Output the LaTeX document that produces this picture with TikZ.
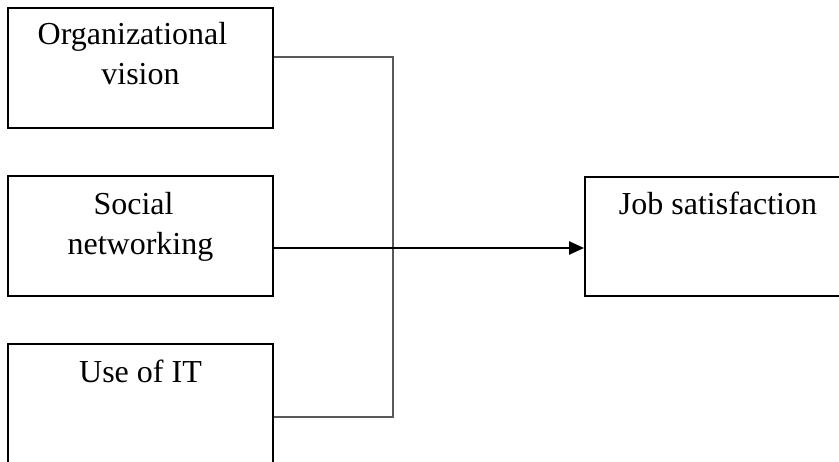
\documentclass[tikz,border=0pt]{standalone}
\usepackage{fontspec}
\setmainfont{Liberation Serif}
\usetikzlibrary{arrows.meta}

\begin{document}
\begin{tikzpicture}[x=1pt,y=-1pt]

      \useasboundingbox (0,0) rectangle (839,462);
      \clip (0,0) rectangle (839,462);

      \begin{scope}[every node/.style={rectangle,draw,line width=1.8pt,minimum width=265pt,minimum height=120pt,inner sep=0pt}]
        \node (ov) at (140.5,68)  {};
        \node (sn) at (140.5,236) {};
        \node (it) at (140.5,404) {};
        \node[minimum width=266pt,minimum height=119pt] (js) at (718,236.5) {};
      \end{scope}

      % base of a two-line text is its last line
      \begin{scope}[every node/.style={anchor=base,align=center,inner sep=0pt,font=\fontsize{32}{40}\selectfont}]
        \node (ovtext) at ([yshift=-77pt]ov.north) {Organizational\hspace*{16pt}\\vision};
        \node (sntext) at ([yshift=-79pt]sn.north) {Social\hspace*{14pt}\\networking};
        \node (ittext) at ([yshift=-39pt]it.north) {Use of IT};
        \node (jstext) at ([yshift=-38pt]js.north) {Job satisfaction};
      \end{scope}

      \coordinate (ovout) at ([yshift=11pt]ov.east);
      \coordinate (itout) at ([yshift=-13pt]it.east);
      \coordinate (snout) at ([yshift=-12pt]sn.east);
      \coordinate (jsin)  at ([yshift=-11.5pt]js.west);

      \begin{scope}[every path/.style={draw,line width=2pt,color=black!65}]
        \path (ovout) -| (392.7,0 |- itout) -- (itout);
      \end{scope}
      \path[draw,line width=2.4pt,-{Triangle[length=15pt,width=13pt]}] (snout) -- (jsin);

    \end{tikzpicture}
\end{document}
